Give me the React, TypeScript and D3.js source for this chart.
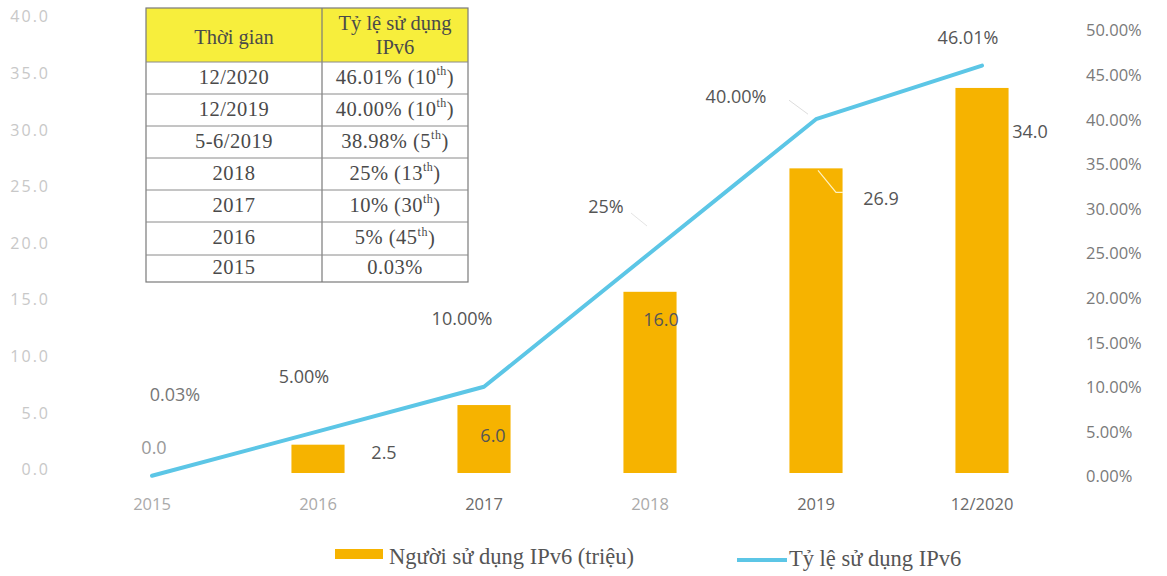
import React from "react";
import * as d3 from "d3";

const categories = ["2015", "2016", "2017", "2018", "2019", "12/2020"];
const users = [0.0, 2.5, 6.0, 16.0, 26.9, 34.0];
const userLabels = ["0.0", "2.5", "6.0", "16.0", "26.9", "34.0"];
const rates = [0.03, 5.0, 10.0, 25.0, 40.0, 46.01];
const rateLabels = ["0.03%", "5.00%", "10.00%", "25%", "40.00%", "46.01%"];
const leftTicks = [0, 5, 10, 15, 20, 25, 30, 35, 40];
const rightTicks = [0, 5, 10, 15, 20, 25, 30, 35, 40, 45, 50];

const tableHeader = ["Thời gian", "Tỷ lệ sử dụng", "IPv6"];
const tableTimes = ["12/2020", "12/2019", "5-6/2019", "2018", "2017", "2016", "2015"];
const tableRates = ["46.01% (10", "40.00% (10", "38.98% (5", "25% (13", "10% (30", "5% (45", "0.03%"];
const tableSup = ["th", "th", "th", "th", "th", "th", ""];

const legendBar = "Người sử dụng IPv6 (triệu)";
const legendLine = "Tỷ lệ sử dụng IPv6";

// label offsets (layout only)
const barLabelOffsets: [number, number][] = [[2, -24], [66, 9], [9, 32], [11, 29], [65, 32], [48, 45]];
const lineLabelOffsets: [number, number][] = [[23, -80], [-14, -53], [-22, -67], [-44, -45], [-80, -21], [-14, -26]];
const xLabelLight = [true, true, false, true, false, false];

const BAR = "#F6B300";
const LINE = "#5CC6E6";
const SANS = "'Open Sans', Lato, sans-serif";
const SERIF = "'Liberation Serif', 'DejaVu Serif', serif";

export default function App() {
  const W = 1167, H = 576;
  const x = d3.scaleBand<string>().domain(categories).range([69, 1065]).paddingInner(0.68).paddingOuter(0.34);
  const cx = (c: string) => (x(c) as number) + x.bandwidth() / 2;
  const yL = d3.scaleLinear().domain([0, 40]).range([473, 20]);
  const yR = d3.scaleLinear().domain([0, 50]).range([476, 30]);

  const line = d3.line<number>()
    .x((_, i) => cx(categories[i]))
    .y((d) => yR(d));

  const tX0 = 146, tX1 = 468, tMid = 322;
  const rowBounds = [8, 62, 94, 126, 158, 190, 222, 255, 282];
  const TF = 20.5;

  return (
    <svg width={W} height={H} style={{ position: "absolute", left: 0, top: 0, background: "#fff" }}>
      {/* left axis */}
      {leftTicks.map((t) => (
        <text key={"l" + t} x={50} y={yL(t) - 2} textAnchor="end" dominantBaseline="middle"
          fontFamily={SANS} fontSize={16} fill="#c8c8c8" letterSpacing={2}>
          {t.toFixed(1)}
        </text>
      ))}
      {/* right axis */}
      {rightTicks.map((t) => (
        <text key={"r" + t} x={1086} y={yR(t) + 2} textAnchor="start" dominantBaseline="middle"
          fontFamily={SANS} fontSize={16.5} fill="#7a7a7a">
          {t.toFixed(2) + "%"}
        </text>
      ))}
      {/* x labels */}
      {categories.map((c, i) => (
        <text key={"x" + c} x={cx(c)} y={506} textAnchor="middle" dominantBaseline="middle"
          fontFamily={SANS} fontSize={16.5} fill={xLabelLight[i] ? "#aaa" : "#6a6a6a"}>
          {c}
        </text>
      ))}
      {/* bars */}
      {categories.map((c, i) => users[i] > 0 ? (
        <rect key={"b" + c} x={x(c)} y={yL(users[i])} width={x.bandwidth()} height={yL(0) - yL(users[i])} fill={BAR} />
      ) : null)}
      {/* leader line inside 2019 bar */}
      <polyline points={`${cx(categories[4]) + 2},${yL(users[4]) + 2} ${cx(categories[4]) + 20},${yL(users[4]) + 24} ${cx(categories[4]) + 27},${yL(users[4]) + 24}`}
        fill="none" stroke="#fff2c0" strokeWidth={1.2} />
      {/* faint leader lines for rate labels */}
      <line x1={cx(categories[4]) - 27} y1={yR(rates[4]) - 19} x2={cx(categories[4]) - 8} y2={yR(rates[4]) - 5} stroke="#ddd" strokeWidth={1} />
      <line x1={cx(categories[3]) - 19} y1={yR(rates[3]) - 40} x2={cx(categories[3]) - 3} y2={yR(rates[3]) - 27} stroke="#e4e4e4" strokeWidth={1} />
      {/* line */}
      <path d={line(rates) as string} fill="none" stroke={LINE} strokeWidth={4} strokeLinejoin="round" strokeLinecap="round" />
      {/* bar labels */}
      {categories.map((c, i) => (
        <text key={"bl" + c} x={cx(c) + barLabelOffsets[i][0]} y={yL(users[i]) + barLabelOffsets[i][1]}
          textAnchor="middle" dominantBaseline="middle" fontFamily={SANS} fontSize={18}
          fill={i === 0 ? "#999" : "#555"}>
          {userLabels[i]}
        </text>
      ))}
      {/* line labels */}
      {categories.map((c, i) => (
        <text key={"ll" + c} x={cx(c) + lineLabelOffsets[i][0]} y={yR(rates[i]) + lineLabelOffsets[i][1]}
          textAnchor="middle" dominantBaseline="middle" fontFamily={SANS} fontSize={18}
          fill={i === 0 ? "#777" : "#555"}>
          {rateLabels[i]}
        </text>
      ))}
      {/* table */}
      <g fontFamily={SERIF} fill="#4a4a4a">
        <rect x={tX0} y={rowBounds[0]} width={tX1 - tX0} height={rowBounds[1] - rowBounds[0]} fill="#F7EE3C" />
        <rect x={tX0} y={rowBounds[0]} width={tX1 - tX0} height={rowBounds[8] - rowBounds[0]} fill="none" stroke="#7a7a7a" strokeWidth={1.2} />
        <line x1={tMid} x2={tMid} y1={rowBounds[0]} y2={rowBounds[8]} stroke="#7a7a7a" strokeWidth={1.2} />
        {rowBounds.slice(1, 8).map((b, i) => (
          <line key={"rb" + i} x1={tX0} x2={tX1} y1={b} y2={b} stroke="#8a8a8a" strokeWidth={1} />
        ))}
        <text x={(tX0 + tMid) / 2} y={39} textAnchor="middle" dominantBaseline="middle" fontSize={TF}>{tableHeader[0]}</text>
        <text x={(tMid + tX1) / 2} y={25} textAnchor="middle" dominantBaseline="middle" fontSize={TF}>{tableHeader[1]}</text>
        <text x={(tMid + tX1) / 2} y={49} textAnchor="middle" dominantBaseline="middle" fontSize={TF}>{tableHeader[2]}</text>
        {tableTimes.map((t, i) => {
          const cy = (rowBounds[i + 1] + rowBounds[i + 2]) / 2 + 1;
          return (
            <g key={"tr" + i}>
              <text x={(tX0 + tMid) / 2} y={cy} textAnchor="middle" dominantBaseline="middle" fontSize={TF} letterSpacing={0.5}>{t}</text>
              <text x={(tMid + tX1) / 2} y={cy} textAnchor="middle" dominantBaseline="middle" fontSize={TF} letterSpacing={0.5}>
                {tableRates[i]}
                {tableSup[i] ? <tspan fontSize={12} dy={-7}>{tableSup[i]}</tspan> : null}
                {tableSup[i] ? <tspan dy={7}>)</tspan> : null}
              </text>
            </g>
          );
        })}
      </g>
      {/* legend */}
      <rect x={335} y={549} width={48} height={10} fill={BAR} />
      <text x={389} y={564} fontFamily={SERIF} fontSize={22.5} fill="#555">{legendBar}</text>
      <line x1={737} x2={787} y1={560} y2={560} stroke={LINE} strokeWidth={4} />
      <text x={789} y={566} fontFamily={SERIF} fontSize={22.5} fill="#555">{legendLine}</text>
    </svg>
  );
}
